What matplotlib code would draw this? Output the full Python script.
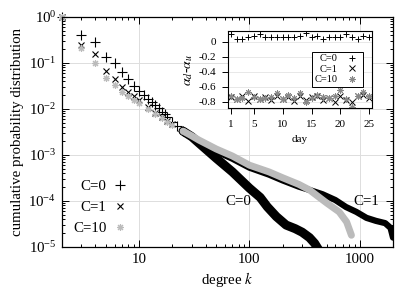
import matplotlib
matplotlib.use("Agg")
import matplotlib.pyplot as plt
from matplotlib.lines import Line2D

plt.rcParams['font.family'] = ['Liberation Serif', 'DejaVu Serif']
plt.rcParams['mathtext.fontset'] = 'stix'

# cumulative degree distribution, discrete part (one marker per degree)
k0 = [2, 3, 4, 5, 6, 7, 8, 9, 10, 11, 12, 13, 14, 15, 16, 17, 18, 20, 22, 25]
p0 = [1.0, 0.41, 0.29, 0.133, 0.098, 0.065, 0.046, 0.031, 0.0246, 0.020, 0.0165,
      0.0142, 0.0122, 0.0104, 0.0087, 0.0078, 0.0067, 0.0052, 0.0043, 0.0033]
k1 = [2, 3, 4, 5, 6, 7, 8, 9, 10, 12, 14, 16, 18, 20, 25]
p1 = [1.0, 0.245, 0.155, 0.067, 0.046, 0.030, 0.023, 0.019, 0.0155, 0.011,
      0.0083, 0.0066, 0.0055, 0.0047, 0.0033]
k10 = [2, 3, 4, 5, 6, 7, 8, 9, 10, 12, 14, 16, 18, 20, 25]
p10 = [1.0, 0.215, 0.10, 0.048, 0.033, 0.024, 0.019, 0.0158, 0.0135, 0.010,
       0.0078, 0.0064, 0.0052, 0.0045, 0.0033]

# dense tail (markers overlap into a band)
t0_k = [25, 30, 35, 50, 70, 100, 125, 145, 175, 215, 260, 300, 350, 390, 420]
t0_p = [0.0033, 0.0025, 1.8e-3, 8.5e-4, 4.3e-4, 1.9e-4, 1.2e-4, 7.5e-5, 4.6e-5,
        3.0e-5, 2.5e-5, 2.1e-5, 1.6e-5, 1.2e-5, 9e-6]
t1_k = [25, 30, 35, 50, 70, 100, 150, 200, 280, 350, 460, 600, 750, 930, 1150,
        1400, 1700, 1900, 2000]
t1_p = [0.0032, 0.0024, 1.85e-3, 1.2e-3, 8.3e-4, 5.3e-4, 3.75e-4, 2.8e-4, 2.05e-4,
        1.74e-4, 1.4e-4, 1.05e-4, 7.4e-5, 5.8e-5, 4.3e-5, 3.7e-5, 3.3e-5, 2.6e-5, 1.6e-5]
t10_k = [25, 30, 35, 50, 70, 100, 150, 200, 280, 350, 500, 650, 760, 840]
t10_p = [0.0033, 0.0026, 0.0021, 1.35e-3, 9.5e-4, 6.0e-4, 4.3e-4, 3.2e-4, 2.3e-4,
         1.74e-4, 9.1e-5, 5.8e-5, 3.5e-5, 1.8e-5]

# inset: alpha_d - alpha_u per day
days = list(range(1, 26))
a_c0 = [0.11, 0.04, 0.04, 0.07, 0.08, 0.11, 0.07, 0.07, 0.07, 0.07, 0.07, 0.07, 0.08,
        0.12, 0.06, 0.08, 0.04, 0.07, 0.07, 0.07, 0.11, 0.07, 0.04, 0.08, 0.07]
a_c1 = [-0.74, -0.77, -0.72, -0.79, -0.73, -0.77, -0.74, -0.78, -0.72, -0.77, -0.74,
        -0.79, -0.72, -0.78, -0.74, -0.73, -0.78, -0.75, -0.80, -0.73, -0.78, -0.80,
        -0.73, -0.71, -0.75]
a_c10 = [-0.73, -0.76, -0.75, -0.67, -0.74, -0.76, -0.75, -0.74, -0.69, -0.76, -0.71,
         -0.75, -0.69, -0.80, -0.75, -0.71, -0.74, -0.75, -0.72, -0.64, -0.76, -0.87,
         -0.72, -0.67, -0.72]

# curve labels
lab_text = ['C=0', 'C=1']
lab_k = [79, 1135]
lab_p = [1.0e-4, 1.0e-4]

GRAY = '#bbbbbb'
ASTER = (8, 2, 0)

fig = plt.figure(figsize=(4.15, 2.92), dpi=100)
ax = fig.add_axes([0.1494, 0.1541, 0.7976, 0.7877])

# C=0
ax.plot(t0_k, t0_p, color='black', lw=6.5, solid_joinstyle='round', solid_capstyle='round')
ax.plot(k0, p0, ls='none', marker='+', ms=7, mew=0.8, color='black', clip_on=False)
# C=1
ax.plot(t1_k, t1_p, color='black', lw=4.5, solid_joinstyle='round', solid_capstyle='round')
ax.plot(k1, p1, ls='none', marker='x', ms=4.5, mew=0.8, color='black', clip_on=False)
# C=10
ax.plot(t10_k, t10_p, color=GRAY, lw=5, solid_joinstyle='round', solid_capstyle='round')
ax.plot(k10, p10, ls='none', marker=ASTER, ms=5, mew=0.8, color=GRAY, clip_on=False)

ax.set_xscale('log')
ax.set_yscale('log')
ax.set_xlim(2, 2000)
ax.set_ylim(1e-5, 1)
ax.set_xticks([10, 100, 1000])
ax.set_xticklabels(['10', '100', '1000'])
ax.grid(True, which='major', color='#dddddd', lw=0.7)
ax.set_axisbelow(True)
ax.tick_params(which='both', direction='in', top=True, right=True, labelsize=10.7, width=0.7)
ax.tick_params(which='major', length=5, pad=4)
ax.tick_params(which='minor', length=2.5)
for s in ax.spines.values():
    s.set_linewidth(0.9)
ax.set_xlabel('degree $k$', fontsize=10.7, labelpad=3)
ax.set_ylabel('cumulative probability distribution', fontsize=10.7, labelpad=3)

for t, x, y in zip(lab_text, lab_k, lab_p):
    ax.text(x, y, t, fontsize=10.7, ha='center', va='center')

handles = [Line2D([], [], ls='none', marker='+', ms=7, mew=0.8, color='black'),
           Line2D([], [], ls='none', marker='x', ms=4.5, mew=0.8, color='black'),
           Line2D([], [], ls='none', marker=ASTER, ms=5, mew=0.8, color=GRAY)]
ax.legend(handles, ['C=0', 'C=1', 'C=10'], loc='center right', bbox_to_anchor=(0.198, 0.172),
          frameon=False, markerfirst=False, fontsize=10.7, handlelength=1.0,
          handletextpad=0.4, labelspacing=0.5, borderpad=0, borderaxespad=0)

# inset
ins = fig.add_axes([0.5494, 0.629, 0.347, 0.2635])
ins.plot(days, a_c0, ls='none', marker='+', ms=4.5, mew=0.7, color='black', label='C=0')
ins.plot(days, a_c1, ls='none', marker='x', ms=3.8, mew=0.7, color='black', label='C=1')
ins.plot(days, a_c10, ls='none', marker=ASTER, ms=4.5, mew=0.7, color='#888888', label='C=10')
ins.set_xlim(0.5, 25.5)
ins.set_ylim(-0.89, 0.14)
ins.set_xticks([1, 5, 10, 15, 20, 25])
ins.set_yticks([0, -0.2, -0.4, -0.6, -0.8])
ins.set_yticklabels(['0', '-0.2', '-0.4', '-0.6', '-0.8'])
ins.grid(True, axis='y', color='#e4e4e4', lw=0.6)
ins.set_axisbelow(True)
ins.tick_params(direction='out', length=4.5, width=0.7, labelsize=8, pad=4)
for s in ins.spines.values():
    s.set_linewidth(0.8)
ins.set_xlabel('day', fontsize=8, labelpad=4)
ins.set_ylabel(r'$\alpha_d$-$\alpha_u$', fontsize=10, labelpad=2)
leg = ins.legend(loc='upper right', bbox_to_anchor=(0.975, 0.805), markerfirst=False,
                 fontsize=7.5, handlelength=1.6, handletextpad=0.6, labelspacing=0.1,
                 borderpad=0.25, fancybox=False, framealpha=1, edgecolor='black')
leg.get_frame().set_linewidth(0.7)

fig.savefig('out.png', dpi=100)
